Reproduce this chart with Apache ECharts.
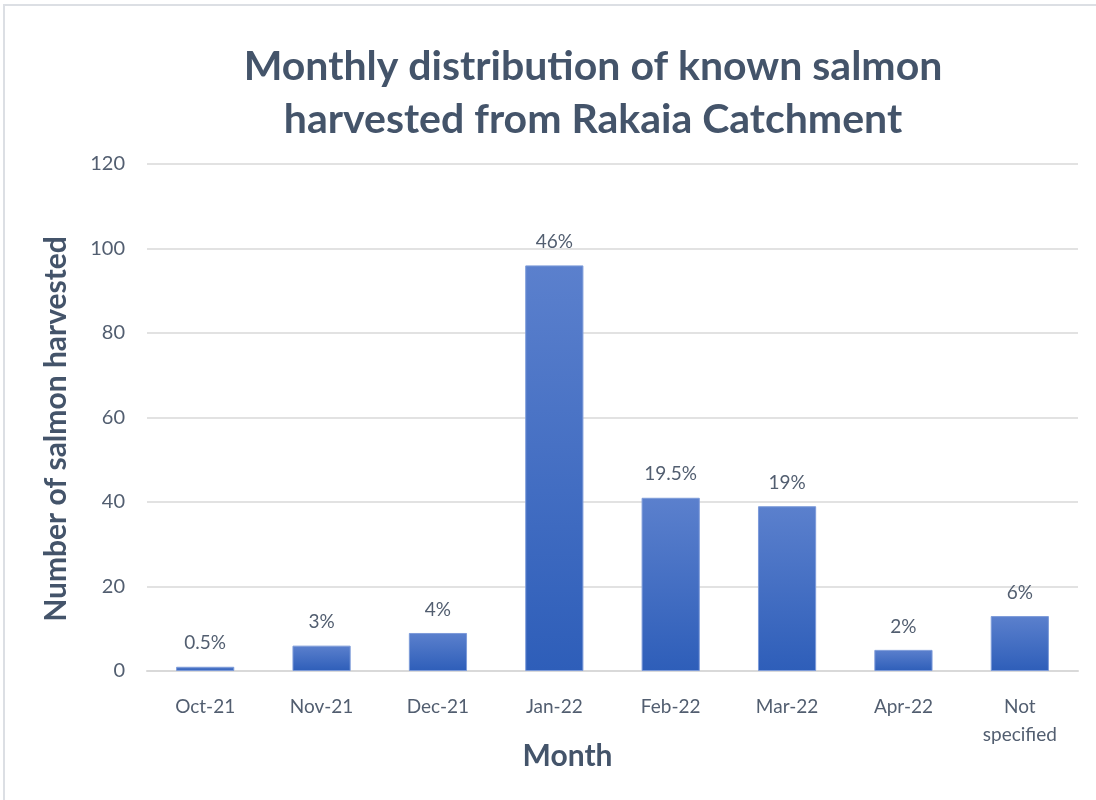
<!DOCTYPE html>
<html>
<head>
<meta charset="utf-8">
<script src="https://cdn.jsdelivr.net/npm/echarts@6/dist/echarts.min.js"></script>
<style>
    html, body { margin: 0; padding: 0; background: #fff; }
    #main { width: 1096px; height: 800px; }
</style>
</head>
<body>
<div id="main"></div>
<script>
    // 数据
    var months = ['Oct-21', 'Nov-21', 'Dec-21', 'Jan-22', 'Feb-22', 'Mar-22', 'Apr-22', 'Not\nspecified'];
    var harvested = [1, 6, 9, 96, 41, 39, 5, 13];
    var pctLabels = ['0.5%', '3%', '4%', '46%', '19.5%', '19%', '2%', '6%'];

    var textColor = '#525e70';
    var titleColor = '#44546a';

    var myChart = echarts.init(document.getElementById('main'));

    var option = {
        backgroundColor: '#fff',
        textStyle: { fontFamily: 'Lato' },
        graphic: [{
            type: 'rect',
            shape: { x: 4, y: 5, width: 1100, height: 800 },
            style: { fill: 'none', stroke: '#dcdfe4', lineWidth: 2 },
            silent: true
        }],
        title: {
            text: 'Monthly distribution of known salmon\nharvested from Rakaia Catchment',
            left: 588,
            textAlign: 'center',
            top: 35,
            textStyle: {
                fontFamily: 'Lato',
                fontSize: 41,
                fontWeight: 'bold',
                color: titleColor,
                lineHeight: 53
            }
        },
        grid: {
            left: 147,
            right: 18,
            top: 164,
            bottom: 129
        },
        xAxis: {
            type: 'category',
            data: months,
            name: 'Month',
            nameLocation: 'middle',
            nameGap: 70,
            nameMoveOverlap: false,
            nameTextStyle: {
                fontSize: 30,
                fontWeight: 'bold',
                color: titleColor,
                padding: [0, 90, 0, 0]
            },
            axisTick: { show: false },
            axisLine: { lineStyle: { color: '#d9d9d9', width: 2 } },
            axisLabel: {
                fontSize: 19,
                color: textColor,
                margin: 22,
                lineHeight: 28
            }
        },
        yAxis: {
            type: 'value',
            min: 0,
            max: 120,
            interval: 20,
            name: 'Number of salmon harvested',
            nameLocation: 'middle',
            nameGap: 76,
            nameRotate: 90,
            nameMoveOverlap: false,
            nameTextStyle: {
                fontSize: 30,
                fontWeight: 'bold',
                color: titleColor,
                padding: [0, 23, 0, 0]
            },
            axisLabel: {
                fontSize: 20,
                color: textColor,
                margin: 22
            },
            splitLine: { lineStyle: { color: '#d9d9d9', width: 1.5 } }
        },
        series: [{
            name: 'Number of salmon harvested',
            type: 'bar',
            data: harvested,
            barWidth: '50%',
            itemStyle: {
                color: new echarts.graphic.LinearGradient(0, 0, 0, 1, [
                    { offset: 0, color: '#5b80cd' },
                    { offset: 1, color: '#2e5eb9' }
                ]),
                borderColor: '#7d9bd9',
                borderWidth: 1
            },
            label: {
                show: true,
                position: 'top',
                distance: 14,
                fontSize: 19,
                color: textColor,
                formatter: function (p) {
                    return pctLabels[p.dataIndex];
                }
            }
        }]
    };

    myChart.setOption(option);
</script>
</body>
</html>
